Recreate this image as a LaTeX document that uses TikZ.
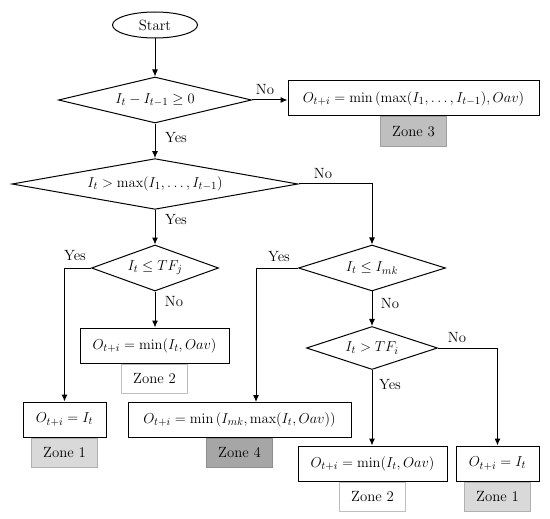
\documentclass[tikz,border=0pt]{standalone}
\usetikzlibrary{shapes.geometric,arrows.meta,positioning}
\definecolor{zoneonefill}{HTML}{D9D9D9}
\definecolor{zoneoneline}{HTML}{B0B0B0}
\definecolor{zonetwoline}{HTML}{BFBFBF}
\definecolor{zonethreefill}{HTML}{BFBFBF}
\definecolor{zonethreeline}{HTML}{A0A0A0}
\definecolor{zonefourfill}{HTML}{A6A6A6}
\definecolor{zonefourline}{HTML}{8F8F8F}
\newcommand{\flowfont}{\fontsize{14.8}{17}\selectfont}
\newcommand{\mathfont}{\fontsize{15.5}{18}\selectfont}
\tikzset{
  base/.style={draw, line width=1pt, inner sep=1pt, font=\mathfont},
  decision/.style={base, diamond, aspect=4},
  outbox/.style={base, rectangle, minimum height=35pt},
  zonebox/.style={rectangle, line width=1pt, minimum width=66pt,
    minimum height=29.5pt, inner sep=0pt, font=\flowfont},
  zoneone/.style={zonebox, fill=zoneonefill, draw=zoneoneline},
  zonetwo/.style={zonebox, fill=white, draw=zonetwoline},
  zonethree/.style={zonebox, fill=zonethreefill, draw=zonethreeline},
  zonefour/.style={zonebox, fill=zonefourfill, draw=zonefourline},
  flow/.style={line width=1pt, -{Latex[length=7pt,width=6pt]}},
  lbl/.style={font=\flowfont, inner sep=0pt}
}
\begin{document}
\begin{tikzpicture}[x=1pt, y=-1pt]
  \useasboundingbox (0,0) rectangle (550,519);
  % start and decisions
  \node[base, ellipse, minimum width=85pt, minimum height=26pt, font=\flowfont] (start) at (155,25) {Start};
  \node[decision, minimum width=193pt, minimum height=46pt] (d1) at (155,100) {$I_t - I_{t-1} \geq 0$};
  \node[decision, minimum width=286pt, minimum height=46pt] (d2) at (155,184) {$I_t > \max(I_1, \dots, I_{t-1})$};
  \node[decision, minimum width=127pt, minimum height=46pt] (d3) at (155,268) {$I_t \leq TF_j$};
  \node[decision, minimum width=147pt, minimum height=46pt] (d4) at (372,268) {$I_t \leq I_{mk}$};
  \node[decision, minimum width=131pt, minimum height=43pt] (d5) at (372,348) {$I_t > TF_i$};
  % outputs
  \node[outbox, minimum width=251pt] (o3) at (413.5,98.5) {$O_{t+i} = \min\left(\max(I_1, \dots, I_{t-1}), Oav\right)$};
  \node[outbox, minimum width=149pt] (l2) at (154.5,345.5) {$O_{t+i} = \min(I_t, Oav)$};
  \node[outbox, minimum width=83pt] (l1) at (64.5,419.5) {$O_{t+i} = I_t$};
  \node[outbox, minimum width=223pt] (o4) at (239.5,419.5) {$O_{t+i} = \min\left(I_{mk}, \max(I_t, Oav)\right)$};
  \node[outbox, minimum width=149pt] (r2) at (372.5,463.5) {$O_{t+i} = \min(I_t, Oav)$};
  \node[outbox, minimum width=83pt] (r1) at (497.5,463.5) {$O_{t+i} = I_t$};
  % zones under the outputs
  \node[zonethree, below=0pt of o3] (z3) {Zone 3};
  \node[zonetwo, below=0pt of l2] (zl2) {Zone 2};
  \node[zoneone, below=0pt of l1] (zl1) {Zone 1};
  \node[zonefour, below=0pt of o4] (z4) {Zone 4};
  \node[zonetwo, below=0pt of r2] (zr2) {Zone 2};
  \node[zoneone, below=0pt of r1] (zr1) {Zone 1};
  % connectors
  \coordinate (c4) at (256,402);
  \draw[flow] (start) -- (d1);
  \draw[flow] (d1.east) -- (d1.east -| o3.west);
  \draw[flow] (d1) -- (d2);
  \draw[flow] (d2.east) -| (d4.north);
  \draw[flow] (d2) -- (d3);
  \draw[flow] (d3.west) -| (l1.north);
  \draw[flow] (d3) -- (d3 |- l2.north);
  \draw[flow] (d4.west) -| (c4);
  \draw[flow] (d4) -- (d5);
  \draw[flow] (d5) -- (d5 |- r2.north);
  \draw[flow] (d5.east) -| (r1.north);
  % branch labels
  \foreach \x/\y/\t [count=\i] in {265/90/No, 176/138/Yes, 323/174/No, 176/220/Yes,
      75/256/Yes, 174/302/No, 279/257/Yes, 390/304/No, 457/338/No, 390/385/Yes}
    \node[lbl] (lab\i) at (\x,\y) {\t};
\end{tikzpicture}
\end{document}
